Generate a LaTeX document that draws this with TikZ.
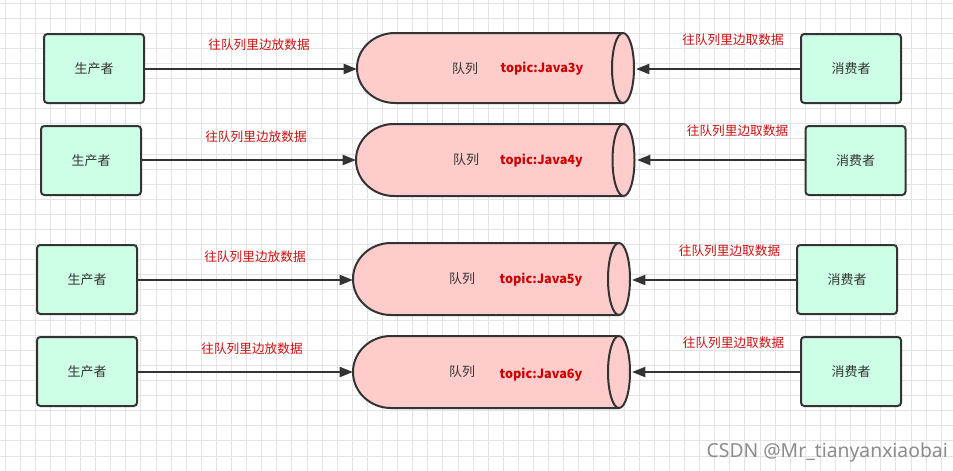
\documentclass[tikz,border=0pt]{standalone}
\usepackage{fontspec}
\newfontfamily\cjk{Noto Sans CJK SC}
\newfontfamily\wmfont{Noto Sans}
\usetikzlibrary{arrows.meta}
\definecolor{gridc}{HTML}{E3E3E3}
\definecolor{linec}{HTML}{333333}
\definecolor{boxfill}{HTML}{CCFFE6}
\definecolor{qfill}{HTML}{FFCCCC}
\definecolor{redtxt}{HTML}{CC1111}
\definecolor{topicred}{HTML}{CC0000}
\definecolor{wm}{HTML}{8C8C8C}
\newcommand\qcyl[4]{%
  \fill[qfill] (#2,#3-#4) -- (#1+38,#3-#4) arc[start angle=270,end angle=90,x radius=38,y radius=#4] -- (#2,#3+#4) -- cycle;
  \draw[qline] (#2,#3-#4) -- (#1+38,#3-#4) arc[start angle=270,end angle=90,x radius=38,y radius=#4] -- (#2,#3+#4);
  \draw[qline,fill=qfill] (#2,#3) ellipse[x radius=11,y radius=#4];
}
\begin{document}
\begin{tikzpicture}[x=0.75pt,y=-0.75pt,
  actor/.style={draw=linec,fill=boxfill,line width=1.5pt,rounded corners=2.5pt,
    minimum width=75pt,minimum height=51.75pt,inner sep=0pt,
    font=\cjk\fontsize{9.75}{12}\selectfont,text=linec},
  qline/.style={draw=linec,line width=1.5pt},
  flow/.style={draw=linec,line width=1.5pt,-{Triangle[length=10pt,width=7.5pt]}},
  lbl/.style={font=\cjk\fontsize{9.5}{12}\selectfont,text=redtxt,inner sep=0pt},
  qname/.style={font=\cjk\fontsize{9.75}{12}\selectfont,text=linec,inner sep=0pt},
  topic/.style={font=\cjk\bfseries\fontsize{9.5}{12}\selectfont,text=topicred,inner sep=0pt}]
\useasboundingbox (0,0) rectangle (953,471);
\fill[white] (0,0) rectangle (953,471);
\foreach \i in {0,...,63} \draw[gridc,line width=0.75pt] (5+15.1*\i,0) -- (5+15.1*\i,471);
\foreach \i in {0,...,31} \draw[gridc,line width=0.75pt] (0,3+15.1*\i) -- (953,3+15.1*\i);

% row 1
\qcyl{357}{623}{68}{35}
\coordinate (q1l) at (357,69);
\coordinate (q1r) at (636,69);
\node[qname] (q1a) at (465,69) {队列};
\node[topic] (q1b) at (542,69) {topic:Java3y};
\node[actor] (p1) at (94,68.5) {生产者};
\node[actor] (c1) at (851,68.5) {消费者};
\draw[flow] (p1.east |- q1l) -- (q1l);
\draw[flow] (c1.west |- q1r) -- (q1r);
\node[lbl] (l1) at (259,45) {往队列里边放数据};
\node[lbl] (r1) at (733,40) {往队列里边取数据};

% row 2
\qcyl{356}{623.5}{160}{36}
\coordinate (q2l) at (356,160);
\coordinate (q2r) at (637,160);
\node[qname] (q2a) at (466,160) {队列};
\node[topic] (q2b) at (541.5,161) {topic:Java4y};
\node[actor] (p2) at (91,160.5) {生产者};
\node[actor] (c2) at (855.5,160.5) {消费者};
\draw[flow] (p2.east |- q2l) -- (q2l);
\draw[flow] (c2.west |- q2r) -- (q2r);
\node[lbl] (l2) at (256,137) {往队列里边放数据};
\node[lbl] (r2) at (737.5,131) {往队列里边取数据};

% row 3
\qcyl{353}{619}{279}{36}
\coordinate (q3l) at (353,280);
\coordinate (q3r) at (632,280);
\node[qname] (q3a) at (462,279) {队列};
\node[topic] (q3b) at (541,280) {topic:Java5y};
\node[actor] (p3) at (87,279.5) {生产者};
\node[actor] (c3) at (847,279.5) {消费者};
\draw[flow] (p3.east |- q3l) -- (q3l);
\draw[flow] (c3.west |- q3r) -- (q3r);
\node[lbl] (l3) at (255,257) {往队列里边放数据};
\node[lbl] (r3) at (729.5,251) {往队列里边取数据};

% row 4
\qcyl{353}{619}{372}{36}
\coordinate (q4l) at (353,372);
\coordinate (q4r) at (632,372);
\node[qname] (q4a) at (462,372) {队列};
\node[topic] (q4b) at (541,375) {topic:Java6y};
\node[actor] (p4) at (87,371.5) {生产者};
\node[actor] (c4) at (851,371.5) {消费者};
\draw[flow] (p4.east |- q4l) -- (q4l);
\draw[flow] (c4.west |- q4r) -- (q4r);
\node[lbl] (l4) at (252,349) {往队列里边放数据};
\node[lbl] (r4) at (733.5,343) {往队列里边取数据};

\node[font=\wmfont\fontsize{14.5}{17}\selectfont,text=wm,anchor=east,inner sep=0pt] (wmk) at (948,452) {CSDN @Mr\_tianyanxiaobai};
\end{tikzpicture}
\end{document}
